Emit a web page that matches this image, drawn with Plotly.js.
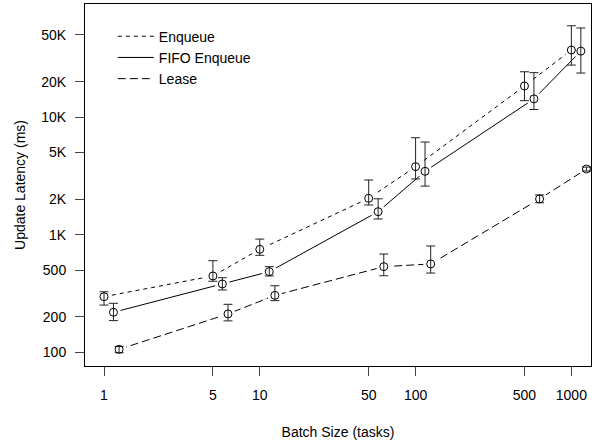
<!DOCTYPE html>
<html>
<head>
<meta charset="utf-8">
<script src="https://cdn.plot.ly/plotly-3.0.1.min.js"></script>
<style>html,body{margin:0;padding:0;background:#fff;}#chart{width:597px;height:446px;}</style>
</head>
<body>
<div id="chart"></div>
<script>
// ---- data ----
const seriesNames = ["Enqueue", "FIFO Enqueue", "Lease"];
const xTickVals = [1, 5, 10, 50, 100, 500, 1000];
const xTickText = ["1", "5", "10", "50", "100", "500", "1000"];
const yTickVals = [100, 200, 500, 1000, 2000, 5000, 10000, 20000, 50000];
const yTickText = ["100", "200", "500", "1K", "2K", "5K", "10K", "20K", "50K"];

const enqueueX = [1, 5, 10, 50, 100, 500, 1000];
const enqueueY = [297, 446, 751, 2040, 3790, 18400, 37200];
const enqueueHi = [327, 601, 918, 2920, 6680, 24300, 59800];
const enqueueLo = [252, 402, 668, 1790, 2980, 13800, 27700];

const fifoX = [1.15, 5.75, 11.5, 57.5, 115, 575, 1150];
const fifoY = [219, 381, 485, 1570, 3460, 14300, 36400];
const fifoHi = [261, 431, 535, 2020, 6140, 23900, 57300];
const fifoLo = [186, 339, 446, 1360, 2590, 11600, 23700];

const leaseX = [1.25, 6.25, 12.5, 62.5, 125, 625, 1250];
const leaseY = [106, 212, 305, 535, 564, 2015, 3620];
const leaseHi = [112, 256, 368, 685, 802, 2180, 3760];
const leaseLo = [99, 185, 275, 448, 472, 1870, 3480];

// ---- styling ----
const FONT = "Liberation Sans, Arial, Helvetica, sans-serif";
const series = [
  {name: seriesNames[0], x: enqueueX, y: enqueueY, hi: enqueueHi, lo: enqueueLo, dash: "4px,4px"},
  {name: seriesNames[1], x: fifoX, y: fifoY, hi: fifoHi, lo: fifoLo, dash: "solid"},
  {name: seriesNames[2], x: leaseX, y: leaseY, hi: leaseHi, lo: leaseLo, dash: "8px,4px"}
];

const traces = [];
series.forEach(s => {
  traces.push({
    type: "scatter", mode: "lines", name: s.name, x: s.x, y: s.y,
    line: {color: "#000", width: 1, dash: s.dash}, showlegend: true, hoverinfo: "skip"
  });
  traces.push({
    type: "scatter", mode: "markers", x: s.x, y: s.y, showlegend: false, hoverinfo: "skip",
    marker: {symbol: "circle", size: 15, color: "#fff", line: {width: 0}}
  });
});
series.forEach(s => {
  traces.push({
    type: "scatter", mode: "markers", x: s.x, y: s.y, showlegend: false,
    marker: {symbol: "circle-open", size: 8, color: "#000", line: {width: 1, color: "#000"}},
    error_y: {
      type: "data", symmetric: false,
      array: s.hi.map((v, i) => v - s.y[i]),
      arrayminus: s.y.map((v, i) => v - s.lo[i]),
      color: "#222", thickness: 1, width: 4.5
    }
  });
});

const layout = {
  width: 597, height: 446,
  margin: {l: 85, r: 6, t: 4, b: 80},
  paper_bgcolor: "#fff", plot_bgcolor: "#fff",
  font: {family: FONT, size: 14, color: "#000"},
  showlegend: true,
  legend: {
    x: 0.055, y: 0.954, xanchor: "left", yanchor: "top",
    bgcolor: "rgba(0,0,0,0)", borderwidth: 0,
    font: {family: FONT, size: 14, color: "#000"},
    itemwidth: 36, tracegroupgap: 0
  },
  xaxis: {
    type: "log", range: [-0.122, 3.126],
    tickvals: xTickVals, ticktext: xTickText,
    ticks: "outside", ticklen: 9, tickwidth: 1, tickcolor: "#444",
    showline: true, mirror: true, linecolor: "#000", linewidth: 1,
    showgrid: false, zeroline: false, ticklabelstandoff: 7,
    title: {text: "Batch Size (tasks)", font: {family: FONT, size: 14}, standoff: 25}
  },
  yaxis: {
    type: "log", range: [1.8835, 4.962],
    tickvals: yTickVals, ticktext: yTickText,
    ticks: "outside", ticklen: 9, tickwidth: 1, tickcolor: "#444",
    showline: true, mirror: true, linecolor: "#000", linewidth: 1,
    showgrid: false, zeroline: false, ticklabelstandoff: 6,
    title: {text: "Update Latency (ms)", font: {family: FONT, size: 14}, standoff: 12}
  }
};

Plotly.newPlot("chart", traces, layout, {displayModeBar: false, staticPlot: true});
</script>
</body>
</html>
